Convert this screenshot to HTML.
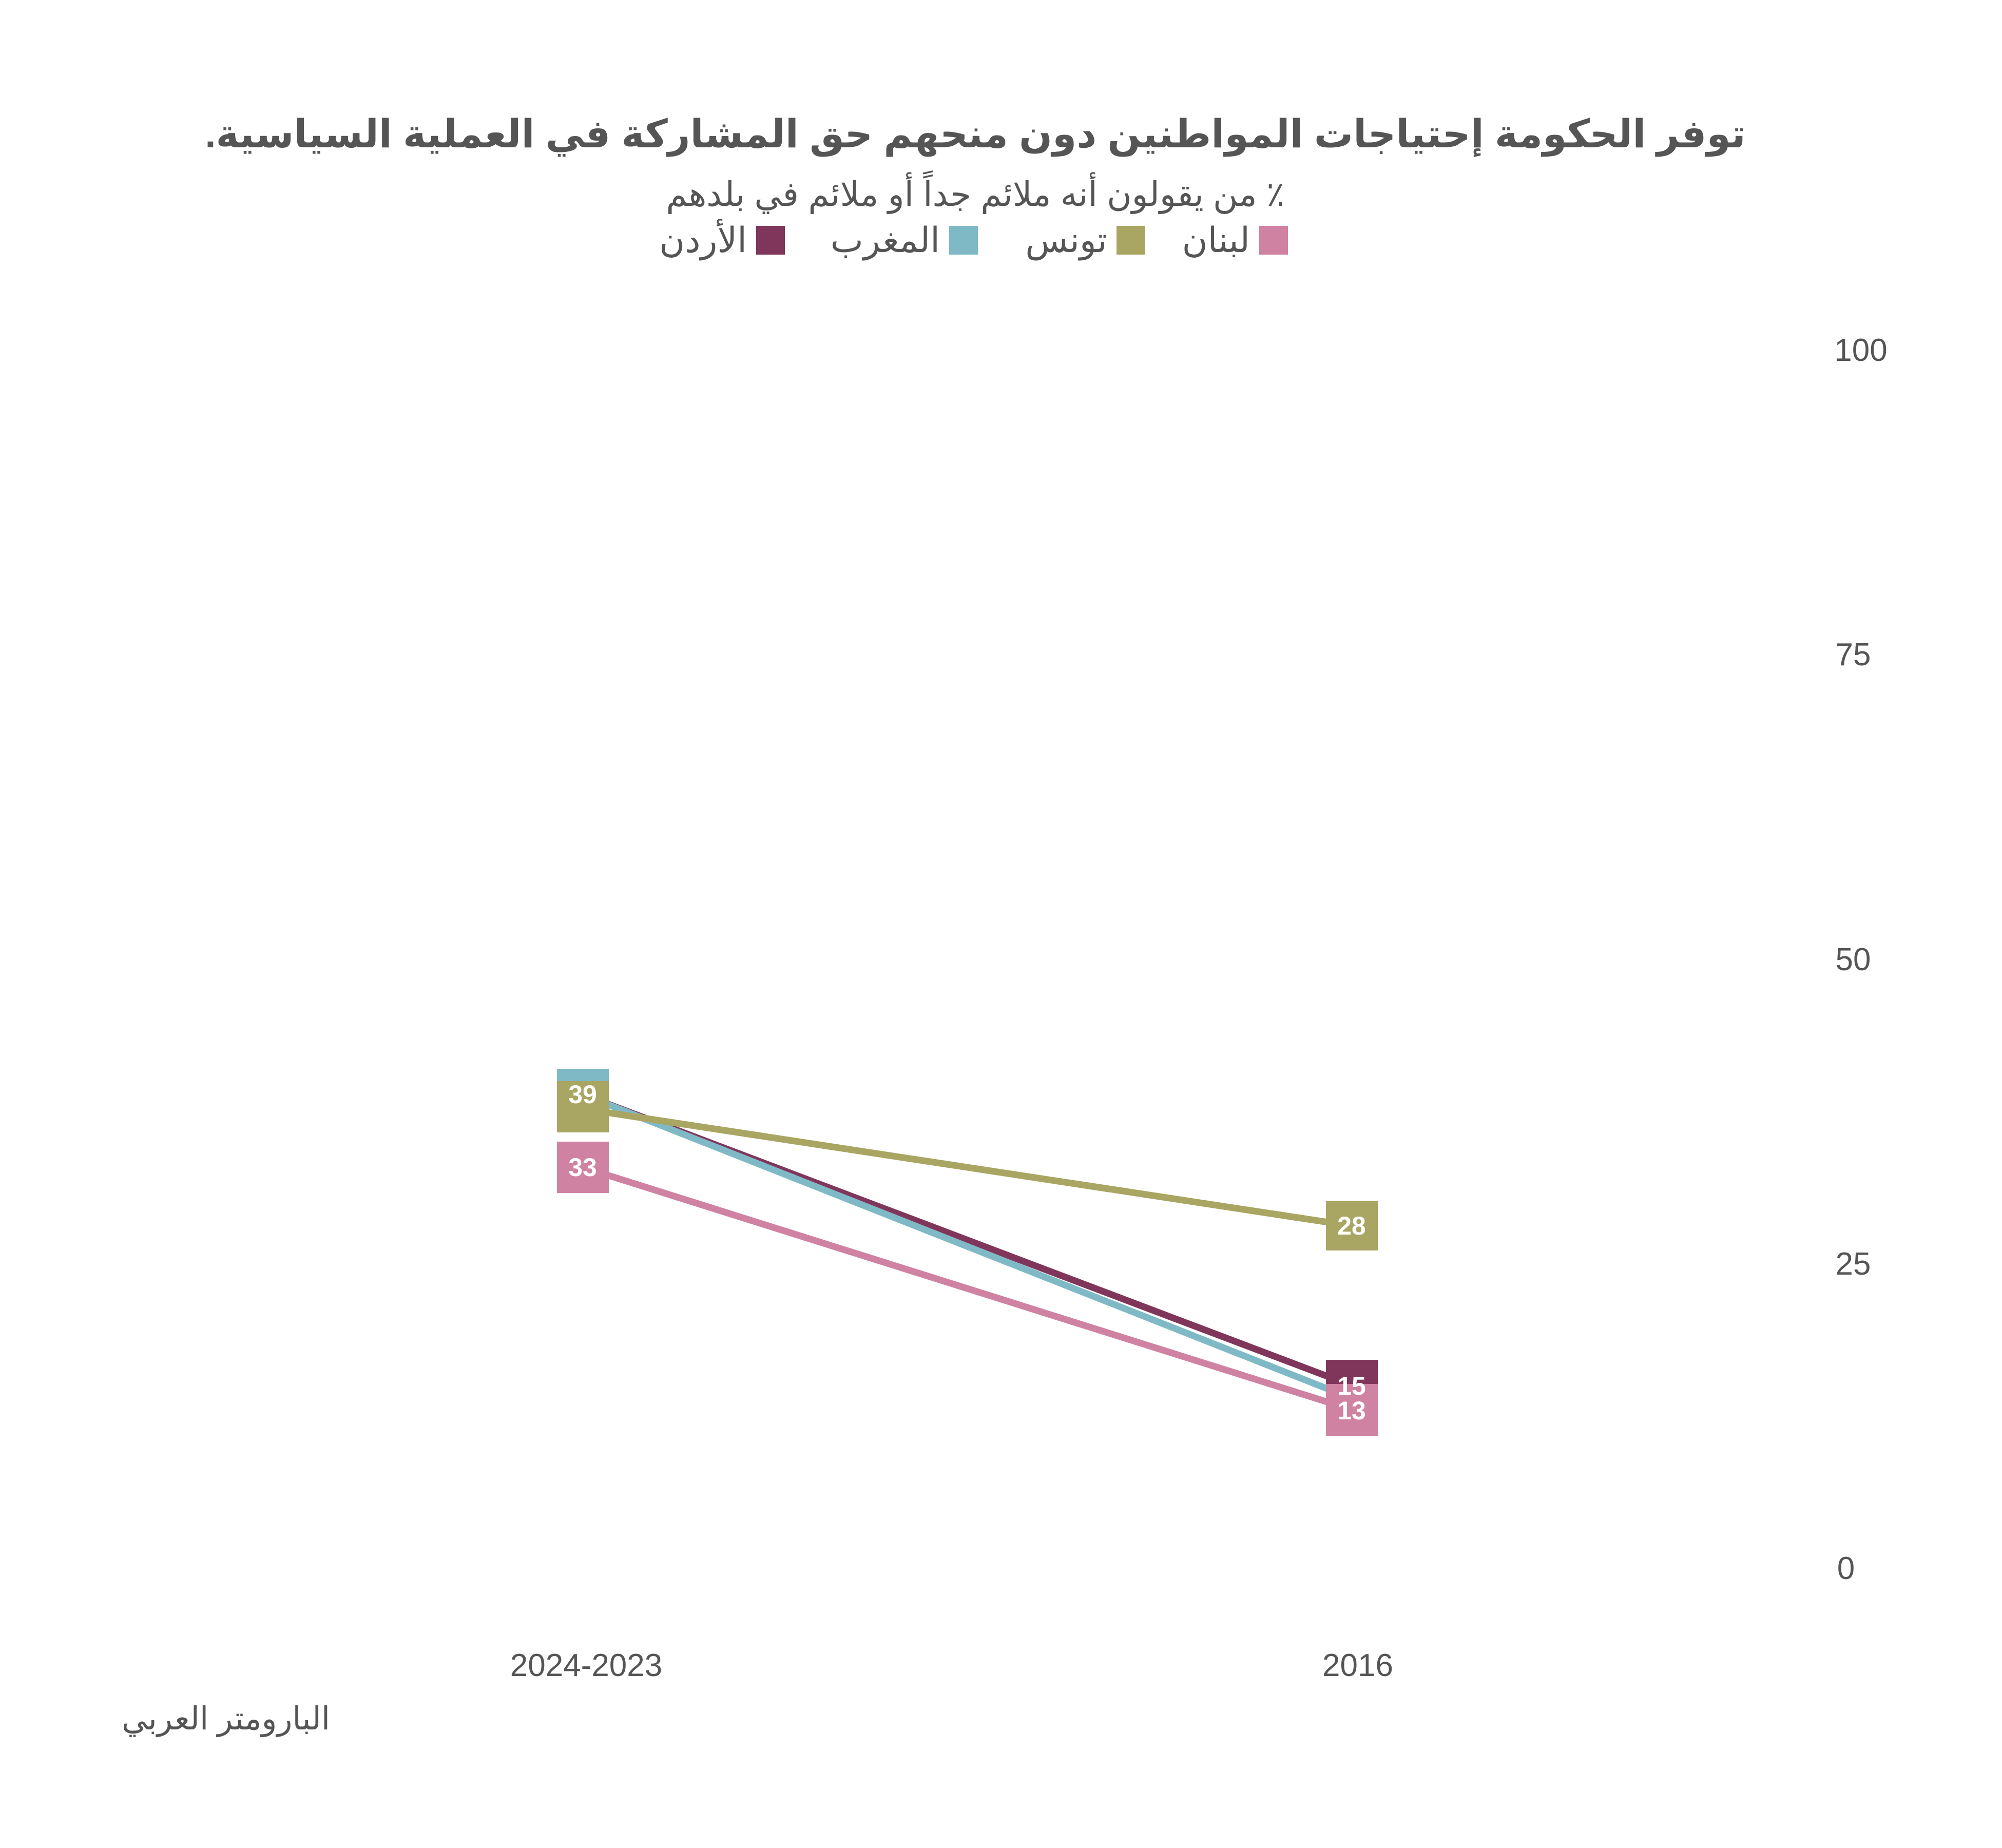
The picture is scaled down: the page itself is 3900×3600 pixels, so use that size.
<!DOCTYPE html>
<html><head><meta charset="utf-8"><style>
html,body{margin:0;padding:0;background:#fff}
body{width:3900px;height:3600px;position:relative;overflow:hidden;font-family:"Liberation Sans","DejaVu Sans",sans-serif;color:#555}
.t{position:absolute;white-space:nowrap;line-height:1}
.c{transform:translate(-50%,-50%)}
.sw{position:absolute;width:56px;height:56px;top:440px}
.lg{position:absolute;top:468px;transform:translate(-100%,-50%);font-size:68px;white-space:nowrap;line-height:1;direction:rtl}
.yl{position:absolute;font-size:62px;transform:translate(-50%,-50%);line-height:1}
</style></head><body>
<div class="t c" dir="rtl" style="left:1900px;top:262px;font-size:76px;font-weight:bold;">توفر الحكومة إحتياجات المواطنين دون منحهم حق المشاركة في العملية السياسية.</div>
<div class="t c" dir="rtl" style="left:1900px;top:378px;font-size:66px;">٪ من يقولون أنه ملائم جداً أو ملائم في بلدهم</div>

<div class="sw" style="left:2453px;background:#cf82a2"></div>
<div class="lg" style="left:2435px">لبنان</div>
<div class="sw" style="left:2175px;background:#a9a562"></div>
<div class="lg" style="left:2157px">تونس</div>
<div class="sw" style="left:1849px;background:#7fb9c6"></div>
<div class="lg" style="left:1831px">المغرب</div>
<div class="sw" style="left:1473px;background:#80365b"></div>
<div class="lg" style="left:1455px">الأردن</div>

<div class="yl" style="left:3625px;top:683px">100</div>
<div class="yl" style="left:3610px;top:1276px">75</div>
<div class="yl" style="left:3610px;top:1870px">50</div>
<div class="yl" style="left:3610px;top:2463px">25</div>
<div class="yl" style="left:3596px;top:3056px">0</div>

<div class="yl" style="left:1142px;top:3245px">2024-2023</div>
<div class="yl" style="left:2645px;top:3245px">2016</div>
<div class="t" dir="rtl" style="left:237px;top:3318px;font-size:62px;">البارومتر العربي</div>

<svg style="position:absolute;left:0;top:0" width="3900" height="3600">
<g stroke-width="13" fill="none">
<line x1="1135" y1="2132" x2="2633" y2="2699" stroke="#80365b"/>
<line x1="1135" y1="2132" x2="2633" y2="2724" stroke="#7fb9c6"/>
<line x1="1135" y1="2160" x2="2633" y2="2388" stroke="#a9a562"/>
<line x1="1135" y1="2274" x2="2633" y2="2746" stroke="#cf82a2"/>
</g>
<rect x="1085" y="2082" width="101" height="100" fill="#80365b"/>
<rect x="1085" y="2082" width="101" height="100" fill="#7fb9c6"/>
<rect x="1085" y="2106" width="101" height="100" fill="#a9a562"/>
<rect x="1085" y="2224" width="101" height="100" fill="#cf82a2"/>
<rect x="2583" y="2340" width="101" height="96" fill="#a9a562"/>
<rect x="2583" y="2649" width="101" height="100" fill="#80365b"/>
<rect x="2583" y="2696" width="101" height="101" fill="#7fb9c6"/>
<rect x="2583" y="2696" width="101" height="101" fill="#cf82a2"/>
<g fill="#fff" font-family="Liberation Sans, sans-serif" font-weight="bold" font-size="50" text-anchor="middle" dominant-baseline="central">
<text x="1135" y="2132">39</text>
<text x="1135" y="2274">33</text>
<text x="2633" y="2388">28</text>
<text x="2633" y="2700">15</text>
<text x="2633" y="2748">13</text>
</g>
</svg>
</body></html>
